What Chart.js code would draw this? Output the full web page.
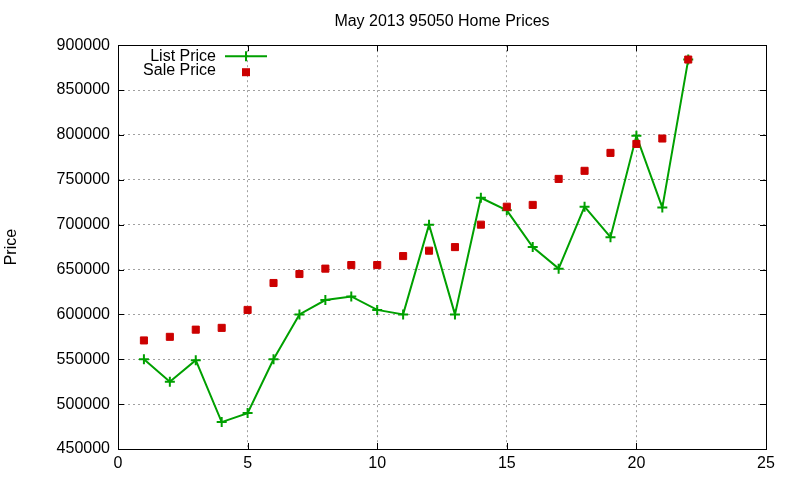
<!DOCTYPE html>
<html>
<head>
<meta charset="utf-8">
<title>May 2013 95050 Home Prices</title>
<script src="https://cdn.jsdelivr.net/npm/chart.js@4"></script>
<style>
  html, body { margin: 0; padding: 0; background: #fff; }
  #wrap { width: 800px; height: 480px; }
</style>
</head>
<body>
<div id="wrap"><canvas id="myChart" width="800" height="480"></canvas></div>
<script>
// values
const days = [1, 2, 3, 4, 5, 6, 7, 8, 9, 10, 11, 12, 13, 14, 15, 16, 17, 18, 19, 20, 21, 22];
const listPrice = [550000, 525000, 549000, 480000, 490000, 550000, 600000, 616000, 620000, 605000, 600000,
    700000, 600000, 730000, 716000, 675000, 651000, 720000, 686000, 799000, 719000, 884000];
const salePrice = [571000, 575000, 583000, 585000, 605000, 635000, 645000, 651000, 655000, 655000, 665000,
    671000, 675000, 700000, 720000, 722000, 751000, 760000, 780000, 790000, 796000, 884000];
const xTicks = [0, 5, 10, 15, 20, 25];
const yTicks = [450000, 500000, 550000, 600000, 650000, 700000, 750000, 800000, 850000, 900000];

const green = '#00a000';
const red = '#cc0000';

Chart.defaults.font.family = '"Liberation Sans", Arial, sans-serif';
Chart.defaults.font.size = 16;
Chart.defaults.color = '#000';

// gnuplot style frame with ticks pointing inwards on all four sides
const framePlugin = {
    id: 'frame',
    afterDatasetsDraw(chart) {
        const ctx = chart.ctx;
        const a = chart.chartArea;
        const xs = chart.scales.x;
        const ys = chart.scales.y;
        const len = 6;
        ctx.save();
        ctx.strokeStyle = '#000';
        ctx.lineWidth = 1;
        ctx.beginPath();
        for (let v of xTicks) {
            const px = Math.round(xs.getPixelForValue(v)) + 0.5;
            ctx.moveTo(px, a.bottom);
            ctx.lineTo(px, a.bottom - len);
            ctx.moveTo(px, a.top);
            ctx.lineTo(px, a.top + len);
        }
        for (let v of yTicks) {
            const py = Math.round(ys.getPixelForValue(v)) + 0.5;
            ctx.moveTo(a.left, py);
            ctx.lineTo(a.left + len, py);
            ctx.moveTo(a.right, py);
            ctx.lineTo(a.right - len, py);
        }
        ctx.stroke();
        ctx.strokeRect(Math.round(a.left) + 0.5, Math.round(a.top) + 0.5,
            Math.round(a.right - a.left), Math.round(a.bottom - a.top));
        ctx.restore();
    }
};

// key in the top left corner, text right aligned before the sample
const keyPlugin = {
    id: 'key',
    afterDraw(chart) {
        const ctx = chart.ctx;
        const a = chart.chartArea;
        const textRight = a.left + 98;
        const sampleX = a.left + 128;
        ctx.save();
        ctx.font = '16px "Liberation Sans", Arial, sans-serif';
        ctx.fillStyle = '#000';
        ctx.textAlign = 'right';
        ctx.textBaseline = 'middle';
        ctx.fillText(chart.data.datasets[1].label, textRight, a.top + 11);
        ctx.fillText(chart.data.datasets[0].label, textRight, a.top + 25);

        ctx.strokeStyle = green;
        ctx.lineWidth = 2;
        ctx.beginPath();
        ctx.moveTo(sampleX - 21, a.top + 11);
        ctx.lineTo(sampleX + 21, a.top + 11);
        ctx.moveTo(sampleX, a.top + 6);
        ctx.lineTo(sampleX, a.top + 16);
        ctx.stroke();

        ctx.fillStyle = red;
        ctx.fillRect(sampleX - 4, a.top + 23, 8, 8);
        ctx.restore();
    }
};

var ctx = document.getElementById('myChart').getContext('2d');
var myChart = new Chart(ctx, { //eslint-disable-line
    type: 'line',
    data: {
        datasets: [{
            label: 'Sale Price',
            data: days.map((d, i) => ({ x: d, y: salePrice[i] })),
            showLine: false,
            pointStyle: 'rect',
            pointRadius: 5,
            pointBorderWidth: 1,
            backgroundColor: red,
            borderColor: red,
            order: 0
        }, {
            label: 'List Price',
            data: days.map((d, i) => ({ x: d, y: listPrice[i] })),
            borderColor: green,
            backgroundColor: green,
            borderWidth: 2,
            pointStyle: 'cross',
            pointRadius: 5,
            pointBorderWidth: 2,
            tension: 0,
            order: 1
        }]
    },
    options: {
        responsive: false,
        animation: false,
        layout: {
            padding: { top: 0, right: 34, bottom: 0, left: 0 }
        },
        plugins: {
            legend: { display: false },
            tooltip: { enabled: false },
            title: {
                display: true,
                fullSize: false,
                text: 'May 2013 95050 Home Prices',
                font: { size: 16, weight: 'normal' },
                padding: { top: 12, bottom: 14 }
            }
        },
        scales: {
            x: {
                type: 'linear',
                min: 0,
                max: 25,
                afterBuildTicks: (scale) => { scale.ticks = xTicks.map(v => ({ value: v })); },
                afterFit: (scale) => { scale.height = 31; },
                ticks: { padding: 5, maxRotation: 0 },
                grid: { color: '#a0a0a0', drawTicks: false },
                border: { display: false, dash: [2, 3] }
            },
            y: {
                min: 450000,
                max: 900000,
                afterBuildTicks: (scale) => { scale.ticks = yTicks.map(v => ({ value: v })); },
                afterFit: (scale) => { scale.width = 118; },
                ticks: { padding: 8, callback: (v) => String(v) },
                title: {
                    display: true,
                    text: 'Price',
                    font: { size: 16 },
                    padding: { top: 2, bottom: 0 }
                },
                grid: { color: '#a0a0a0', drawTicks: false },
                border: { display: false, dash: [2, 3] }
            }
        }
    },
    plugins: [framePlugin, keyPlugin]
});
</script>
</body>
</html>
